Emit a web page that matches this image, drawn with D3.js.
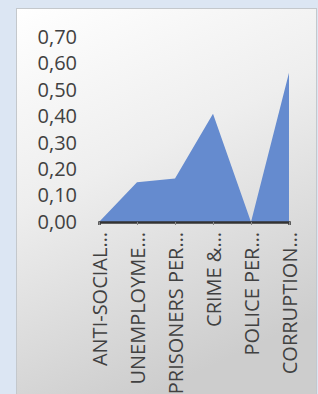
<!DOCTYPE html>
<html>
<head>
<meta charset="utf-8">
<script src="https://cdn.jsdelivr.net/npm/d3@7"></script>
<style>
  html, body { margin: 0; padding: 0; background: #dce6f3; }
  #chart { width: 318px; height: 394px; }
  text { font-family: 'Open Sans', sans-serif; fill: #414141; }
</style>
</head>
<body>
<div id="chart"></div>
<script>
//Datos
const categorias = ['ANTI-SOCIAL…', 'UNEMPLOYME…', 'PRISONERS PER…', 'CRIME &…', 'POLICE PER…', 'CORRUPTION…'];
const valores = [0.00, 0.15, 0.165, 0.41, 0.00, 0.565];
const ticksY = [0, 0.1, 0.2, 0.3, 0.4, 0.5, 0.6, 0.7];

const COLOR_AREA = '#658bcf';

let margin = {top: 37, right: 29, bottom: 172, left: 99},
    width = 318 - margin.left - margin.right,
    height = 394 - margin.top - margin.bottom;

let svg = d3.select('#chart')
    .append('svg')
    .attr('width', 318)
    .attr('height', 394);

//Panel con degradado
let defs = svg.append('defs');
let grad = defs.append('linearGradient')
    .attr('id', 'bg')
    .attr('x1', '0').attr('y1', '0').attr('x2', '0.35').attr('y2', '1');
grad.append('stop').attr('offset', '0%').attr('stop-color', '#ffffff');
grad.append('stop').attr('offset', '45%').attr('stop-color', '#eeeeee');
grad.append('stop').attr('offset', '100%').attr('stop-color', '#cdcdcd');

svg.append('rect')
    .attr('x', 16.5).attr('y', 8.5)
    .attr('width', 300).attr('height', 400)
    .attr('fill', 'url(#bg)')
    .attr('stroke', '#c4c8cc');

let g = svg.append('g')
    .attr('transform', 'translate(' + margin.left + ',' + margin.top + ')');

let x = d3.scalePoint()
    .domain(categorias)
    .range([0, width]);

let y = d3.scaleLinear()
    .domain([0, 0.7])
    .range([height, 0]);

//Eje Y
g.append('g')
    .attr('transform', 'translate(-22,0)')
    .call(d3.axisLeft(y).tickValues(ticksY).tickSize(0).tickPadding(0)
        .tickFormat(function(d) { return d3.format('.2f')(d).replace('.', ','); }))
    .call(function(g) { g.select('.domain').remove(); })
    .selectAll('text')
    .style('font-size', '20px')
    .attr('fill', '#414141');

//Area
let area = d3.area()
    .x(function(d, i) { return x(categorias[i]); })
    .y0(y(0))
    .y1(function(d) { return y(d); });

g.append('path')
    .datum(valores)
    .attr('d', area)
    .attr('fill', COLOR_AREA);

//Eje X
g.append('g')
    .attr('transform', 'translate(0,' + height + ')')
    .call(d3.axisBottom(x).tickSize(3).tickPadding(8))
    .call(function(g) {
        g.select('.domain').attr('stroke', '#333').attr('stroke-width', 2.5);
        g.selectAll('.tick line').attr('stroke', '#888');
    })
    .selectAll('text')
    .style('font-size', '20px')
    .attr('fill', '#414141')
    .attr('transform', 'rotate(-90)')
    .attr('text-anchor', 'end')
    .attr('dy', '0.35em')
    .attr('x', -10)
    .attr('y', 0);
</script>
</body>
</html>
